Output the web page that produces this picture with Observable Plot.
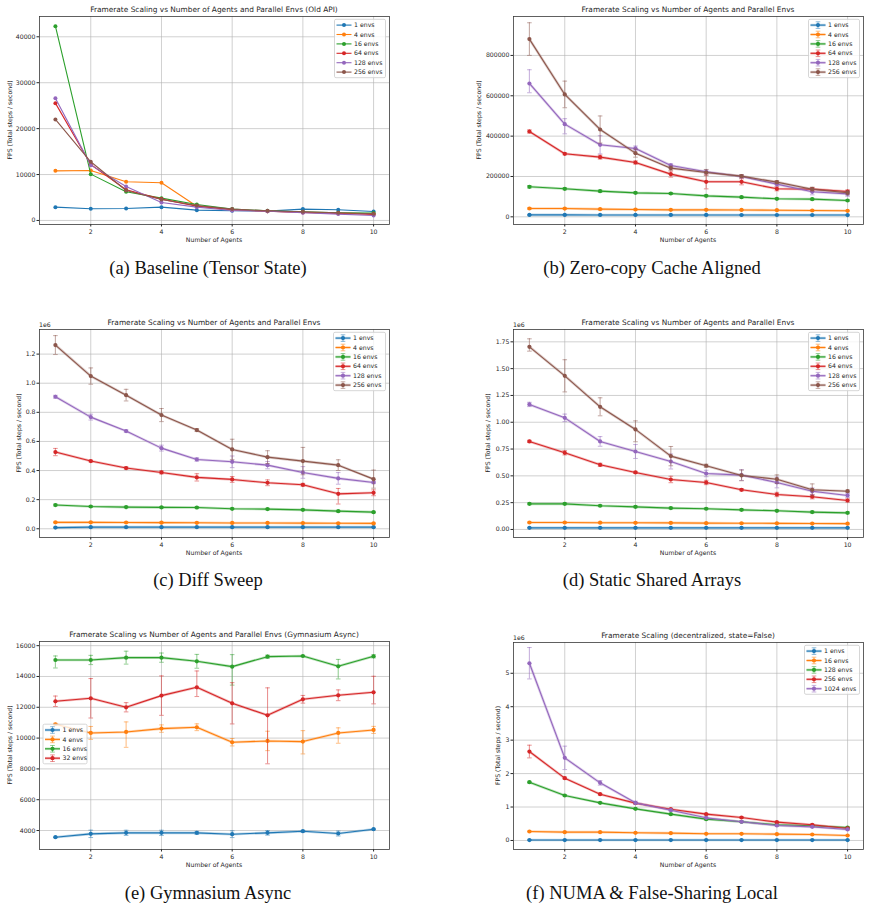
<!DOCTYPE html>
<html><head><meta charset="utf-8">
<script src="https://cdn.jsdelivr.net/npm/d3@7"></script>
<script src="https://cdn.jsdelivr.net/npm/@observablehq/plot@0.6"></script>
<style>
html,body{margin:0;padding:0;background:#fff;}
#page{position:relative;width:869px;height:914px;overflow:hidden;background:#fff;}
.panel{position:absolute;}
.panel svg{overflow:visible;}
.caption{position:absolute;width:420px;text-align:center;font-family:"Liberation Serif","DejaVu Serif",serif;font-size:18.5px;color:#111;line-height:20px;white-space:nowrap;}
</style></head><body><div id="page"></div>
<script>
// ---------------- data ----------------
const agents = [1, 2, 3, 4, 5, 6, 7, 8, 9, 10];
const xTicks = [2, 4, 6, 8, 10];

// (a) Baseline (Tensor State)
const baselineEnvs = ["1 envs", "4 envs", "16 envs", "64 envs", "128 envs", "256 envs"];
const baselineFps = [
  [2900, 2540, 2610, 2900, 2250, 2100, 2030, 2470, 2320, 1960],
  [10800, 10890, 8420, 8200, 3100, 2300, 2030, 1800, 1600, 1450],
  [42300, 10090, 6240, 4860, 3480, 2470, 2100, 1890, 1670, 1600],
  [25550, 12200, 6680, 4650, 3120, 2320, 2030, 1740, 1520, 1300],
  [26640, 12050, 7400, 3920, 2900, 2180, 2030, 1670, 1380, 1090],
  [22000, 12780, 6530, 4570, 3270, 2470, 2100, 1890, 1670, 1450]
];
const baselineTicks = [0, 10000, 20000, 30000, 40000];

// (b) Zero-copy Cache Aligned
const zeroCopyEnvs = ["1 envs", "4 envs", "16 envs", "64 envs", "128 envs", "256 envs"];
const zeroCopyFps = [
  [9500, 9500, 9400, 9400, 9300, 9300, 9200, 9100, 9000, 8800],
  [41300, 41000, 38000, 36400, 34700, 34700, 34000, 33000, 31400, 29800],
  [148800, 138900, 127300, 119000, 115700, 104100, 97500, 89300, 87600, 81000],
  [423000, 312400, 295900, 269400, 211600, 173600, 173600, 138900, 137200, 125600],
  [661000, 459500, 357000, 339000, 254600, 223100, 200000, 162000, 124000, 114000],
  [881000, 606700, 433000, 315700, 241300, 219800, 201700, 172000, 137000, 119000]
];
const zeroCopyErr = [
  [2000, 2000, 1500, 1500, 1500, 1500, 1500, 1500, 1500, 1500],
  [4000, 3000, 3000, 2500, 2500, 2500, 2500, 2500, 2500, 2500],
  [6000, 5000, 5000, 4000, 4000, 4000, 4000, 4000, 4000, 4000],
  [8000, 5000, 10000, 8000, 15000, 35000, 15000, 10000, 8000, 8000],
  [[46000, 68000], [48000, 27000], 45000, 12000, 8000, 10000, 8000, 10000, 15000, 12000],
  [81000, 66000, 67000, 20000, 10000, 15000, 8000, 8000, 10000, 10000]
];
const zeroCopyTicks = [0, 200000, 400000, 600000, 800000];

// (c) Diff Sweep
const diffEnvs = ["1 envs", "4 envs", "16 envs", "64 envs", "128 envs", "256 envs"];
const diffFps = [
  [8000, 11000, 11000, 11000, 11000, 11000, 11000, 11000, 11000, 11000],
  [44000, 44000, 43000, 42000, 41000, 40000, 40000, 39000, 38000, 37000],
  [163000, 153000, 149000, 147000, 146000, 137000, 135000, 130000, 121000, 114000],
  [527000, 465000, 417000, 387000, 353000, 339000, 316000, 302000, 240000, 247000],
  [907000, 767000, 671000, 554000, 476000, 460000, 437000, 387000, 346000, 318000],
  [1262000, 1049000, 918000, 781000, 678000, 545000, 492000, 465000, 437000, 341000]
];
const diffErr = [
  [3000, 3000, 3000, 3000, 3000, 3000, 3000, 3000, 3000, 3000],
  [4000, 4000, 4000, 4000, 4000, 4000, 4000, 4000, 4000, 4000],
  [6000, 5000, 5000, 5000, 5000, 5000, 5000, 5000, 5000, 5000],
  [25000, 6000, 8000, 10000, 25000, 20000, 20000, 10000, [70000, 37000], 20000],
  [10000, 20000, 8000, 20000, 12000, 40000, 25000, 40000, 40000, 8000],
  [65000, 56000, 40000, 45000, 10000, 70000, 44000, 94000, 37000, 62000]
];
const diffTicks = [0, 200000, 400000, 600000, 800000, 1000000, 1200000];

// (d) Static Shared Arrays
const staticEnvs = ["1 envs", "4 envs", "16 envs", "64 envs", "128 envs", "256 envs"];
const staticFps = [
  [15000, 15000, 15000, 15000, 15000, 15000, 15000, 15000, 15000, 15000],
  [65000, 65000, 63000, 62000, 61000, 59000, 58000, 57000, 55000, 54000],
  [239000, 239000, 221000, 211000, 199000, 193000, 183000, 174000, 162000, 155000],
  [821000, 715000, 603000, 532000, 466000, 438000, 370000, 326000, 305000, 270000],
  [1166000, 1041000, 821000, 727000, 634000, 522000, 507000, 438000, 357000, 317000],
  [1703000, 1433000, 1144000, 933000, 684000, 594000, 504000, 469000, 370000, 357000]
];
const staticErr = [
  [3000, 3000, 3000, 3000, 3000, 3000, 3000, 3000, 3000, 3000],
  [5000, 5000, 5000, 5000, 5000, 5000, 5000, 5000, 5000, 5000],
  [8000, 8000, 8000, 8000, 8000, 8000, 8000, 8000, 8000, 8000],
  [10000, 20000, 15000, 10000, 30000, 20000, 10000, 20000, 20000, 15000],
  [20000, 35000, 45000, 65000, 70000, 30000, 50000, 50000, 30000, 20000],
  [[40000, 75000], 150000, 84000, [115000, 80000], 90000, 15000, 50000, 40000, 55000, 10000]
];
const staticTicks = [0, 250000, 500000, 750000, 1000000, 1250000, 1500000, 1750000];

// (e) Gymnasium Async
const gymEnvs = ["1 envs", "4 envs", "16 envs", "32 envs"];
const gymFps = [
  [3568, 3784, 3849, 3849, 3849, 3762, 3849, 3957, 3805, 4086],
  [10897, 10335, 10400, 10616, 10703, 9730, 9816, 9773, 10335, 10530],
  [15070, 15070, 15222, 15222, 14984, 14638, 15286, 15330, 14659, 15308],
  [12389, 12584, 12000, 12757, 13297, 12259, 11481, 12519, 12778, 12973]
];
const gymErr = [
  [30, 240, 170, 170, 100, 220, 150, 50, 160, 40],
  [60, 420, [1000, 650], 240, 220, 240, 630, [800, 710], [670, 330], 230],
  [[520, 260], 300, 420, 300, 450, [1200, 780], 100, 40, [820, 450], 100],
  [340, 1280, 300, 1280, [600, 1060], 1340, [3150, 1780], 250, 350, [750, 1040]]
];
const gymTicks = [4000, 6000, 8000, 10000, 12000, 14000, 16000];

// (f) NUMA & False-Sharing Local
const numaEnvs = ["1 envs", "16 envs", "128 envs", "256 envs", "1024 envs"];
const numaFps = [
  [12000, 12000, 12000, 12000, 12000, 12000, 12000, 12000, 12000, 12000],
  [269000, 249000, 249000, 229000, 219000, 199000, 199000, 189000, 179000, 149000],
  [1743000, 1345000, 1125000, 946000, 787000, 637000, 558000, 468000, 438000, 388000],
  [2659000, 1863000, 1384000, 1116000, 936000, 787000, 687000, 548000, 468000, 359000],
  [5300000, 2470000, 1723000, 1125000, 906000, 677000, 558000, 448000, 408000, 329000]
];
const numaErr = [
  [2000, 2000, 2000, 2000, 2000, 2000, 2000, 2000, 2000, 2000],
  [12000, 10000, 10000, 10000, 10000, 10000, 10000, 10000, 10000, 10000],
  [25000, 20000, 20000, 20000, 20000, 20000, 20000, 20000, 20000, 20000],
  [190000, 30000, 25000, 20000, 20000, 20000, 20000, 20000, 20000, 20000],
  [470000, 350000, 70000, 50000, 30000, 20000, 20000, 20000, 20000, 20000]
];
const numaTicks = [0, 1000000, 2000000, 3000000, 4000000, 5000000];

const mainTitle = "Framerate Scaling vs Number of Agents and Parallel Envs";
const captions = ["(a) Baseline (Tensor State)", "(b) Zero-copy Cache Aligned", "(c) Diff Sweep",
  "(d) Static Shared Arrays", "(e) Gymnasium Async", "(f) NUMA & False-Sharing Local"];

// ---------------- styling / layout ----------------
const tab10 = ["#1f77b4", "#ff7f0e", "#2ca02c", "#d62728", "#9467bd", "#8c564b"];
const page = document.getElementById("page");
const capSymbol = {draw(ctx) { ctx.moveTo(-2.3, 0); ctx.lineTo(2.3, 0); }};
const fontSans = "'DejaVu Sans', sans-serif";

function panel(cfg) {
  const g = cfg.geom;
  const rows = [];
  cfg.labels.forEach((s, i) => agents.forEach((x, j) => {
    const y = cfg.values[i][j];
    const e = cfg.errors ? cfg.errors[i][j] : 0;
    const [dn, up] = Array.isArray(e) ? e : [e, e];
    rows.push({s, x, y, lo: y - dn, hi: y + up});
  }));
  const grid = {stroke: "#b0b0b0", strokeOpacity: 0.6, strokeWidth: 1};
  const marks = [
    Plot.gridX({ticks: xTicks, ...grid}),
    Plot.gridY({ticks: cfg.yTicks, ...grid}),
    Plot.axisX({ticks: xTicks, tickSize: 2.5, tickPadding: 3, tickFormat: "d", label: null}),
    Plot.axisY({ticks: cfg.yTicks, tickSize: 2.5, tickPadding: 1.5, tickFormat: cfg.yFormat, label: null})
  ];
  cfg.labels.forEach((s) => {
    const d = rows.filter(r => r.s === s);
    if (cfg.errors) {
      marks.push(Plot.line(d, {x: "x", y: "y", stroke: "s", strokeWidth: 2.6, strokeOpacity: 0.3}));
    }
    marks.push(Plot.line(d, {x: "x", y: "y", stroke: "s", strokeWidth: 1.1}));
    if (cfg.errors) {
      marks.push(Plot.ruleX(d, {x: "x", y1: "lo", y2: "hi", stroke: "s", strokeOpacity: 0.5, strokeWidth: 1.1}));
      const caps = d.flatMap(r => [{s: r.s, x: r.x, cy: r.lo}, {s: r.s, x: r.x, cy: r.hi}]);
      marks.push(Plot.dot(caps, {x: "x", y: "cy", symbol: capSymbol, stroke: "s", fill: "none", strokeOpacity: 0.5, strokeWidth: 1}));
    }
    marks.push(Plot.dot(d, {x: "x", y: "y", fill: "s", r: cfg.errors ? 2.1 : 2}));
  });
  marks.push(Plot.frame({stroke: "#3a3a3a", strokeWidth: 0.8}));

  const svg = Plot.plot({
    width: g.width, height: g.height,
    marginLeft: g.L, marginRight: g.width - g.R, marginTop: g.T, marginBottom: g.height - g.B,
    style: {fontFamily: fontSans, fontSize: "6.2px", color: "#262626", background: "transparent"},
    x: {domain: [0.55, 10.45]},
    y: {domain: cfg.yDomain},
    color: {domain: cfg.labels, range: tab10.slice(0, cfg.labels.length)},
    marks
  });
  const div = document.createElement("div");
  div.className = "panel";
  div.style.left = g.left + "px";
  div.style.top = g.top + "px";
  div.appendChild(svg);
  page.appendChild(div);

  const s = d3.select(svg);
  const cx = (g.L + g.R) / 2, cy = (g.T + g.B) / 2;
  const txt = (x, y, t, size, anchor) => s.append("text").attr("x", x).attr("y", y)
    .attr("font-family", fontSans).attr("font-size", size).attr("fill", "#262626")
    .attr("text-anchor", anchor || "middle").text(t);
  txt(cx, g.T - 4, cfg.title, "7.4px");
  txt(cx, g.B + 18.2, "Number of Agents", "6.2px");
  s.append("text").attr("transform", `translate(${g.L - cfg.yLabelOff},${cy}) rotate(-90)`)
    .attr("dy", "0.35em").attr("font-family", fontSans).attr("font-size", "6.2px")
    .attr("fill", "#262626").attr("text-anchor", "middle").text("FPS (Total steps / second)");
  if (cfg.offsetText) txt(g.L, g.T - 2.3, cfg.offsetText, "6.2px", "start");

  // legend (matplotlib style)
  const n = cfg.labels.length, rowH = 9.4, lw = cfg.legendWidth, lh = n * rowH + 2;
  let bx, by;
  if (cfg.legendLoc === "center left") { bx = g.L + 4; by = cy - 1 - lh / 2; }
  else { bx = g.R - 3.5 - lw; by = g.T + 3.3; }
  const lg = s.append("g").attr("text-anchor", "start");
  lg.append("rect").attr("x", bx).attr("y", by).attr("width", lw).attr("height", lh)
    .attr("rx", 1.5).attr("fill", "white").attr("fill-opacity", 0.8)
    .attr("stroke", "#cccccc").attr("stroke-width", 0.8);
  cfg.labels.forEach((lab, i) => {
    const c = tab10[i], yy = by + 5.8 + i * rowH, mx = bx + 9.5;
    if (cfg.errors) lg.append("line").attr("x1", bx + 2).attr("x2", bx + 17).attr("y1", yy).attr("y2", yy)
      .attr("stroke", c).attr("stroke-width", 2.6).attr("stroke-opacity", 0.3);
    lg.append("line").attr("x1", bx + 2).attr("x2", bx + 17).attr("y1", yy).attr("y2", yy)
      .attr("stroke", c).attr("stroke-width", 1.1);
    if (cfg.errors) {
      lg.append("path").attr("d", `M${mx},${yy - 3.3}V${yy + 3.3}M${mx - 2.3},${yy - 3.3}H${mx + 2.3}M${mx - 2.3},${yy + 3.3}H${mx + 2.3}`)
        .attr("stroke", c).attr("stroke-opacity", 0.5).attr("fill", "none").attr("stroke-width", 1);
    }
    lg.append("circle").attr("cx", mx).attr("cy", yy).attr("r", cfg.errors ? 2.1 : 2).attr("fill", c);
    lg.append("text").attr("x", bx + 19.5).attr("y", yy).attr("dy", "0.35em").attr("text-anchor", "start")
      .attr("font-family", fontSans).attr("font-size", "6.2px").attr("fill", "#262626").text(lab);
  });
}

function caption(text, centerX, centerY) {
  const d = document.createElement("div");
  d.className = "caption";
  d.style.left = (centerX - 210) + "px";
  d.style.top = (centerY - 10) + "px";
  d.textContent = text;
  page.appendChild(d);
}

const fmtInt = d3.format("d");
const leftCol = {left: 0, width: 435, L: 39, R: 389};
const rightCol = {left: 435, width: 434, L: 78, R: 428};

panel({labels: baselineEnvs, values: baselineFps, errors: null,
  geom: {...leftCol, top: 0, height: 260, T: 16, B: 224},
  yDomain: [-880, 44420], yTicks: baselineTicks, yFormat: fmtInt,
  title: mainTitle + " (Old API)", yLabelOff: 29, legendWidth: 51});
panel({labels: zeroCopyEnvs, values: zeroCopyFps, errors: zeroCopyErr,
  geom: {...rightCol, top: 0, height: 260, T: 16, B: 224},
  yDomain: [-38000, 993000], yTicks: zeroCopyTicks, yFormat: fmtInt,
  title: mainTitle, yLabelOff: 34, legendWidth: 51});
panel({labels: diffEnvs, values: diffFps, errors: diffErr,
  geom: {...leftCol, top: 305, height: 260, T: 24, B: 232},
  yDomain: [-60000, 1369000], yTicks: diffTicks, yFormat: d => (d / 1e6).toFixed(1),
  title: mainTitle, yLabelOff: 20, legendWidth: 52, offsetText: "1e6"});
panel({labels: staticEnvs, values: staticFps, errors: staticErr,
  geom: {...rightCol, top: 305, height: 260, T: 24, B: 232},
  yDomain: [-75000, 1865000], yTicks: staticTicks, yFormat: d => (d / 1e6).toFixed(2),
  title: mainTitle, yLabelOff: 25, legendWidth: 51, offsetText: "1e6"});
panel({labels: gymEnvs, values: gymFps, errors: gymErr,
  geom: {...leftCol, top: 610, height: 270, T: 31, B: 239},
  yDomain: [2768, 16270], yTicks: gymTicks, yFormat: fmtInt,
  title: mainTitle + " (Gymnasium Async)", yLabelOff: 29, legendWidth: 44, legendLoc: "center left"});
panel({labels: numaEnvs, values: numaFps, errors: numaErr,
  geom: {...rightCol, top: 610, height: 270, T: 32, B: 239},
  yDomain: [-270000, 5920000], yTicks: numaTicks, yFormat: d => String(d / 1e6),
  title: "Framerate Scaling (decentralized, state=False)", yLabelOff: 15, legendWidth: 55, offsetText: "1e6"});

caption(captions[0], 208, 268);
caption(captions[1], 652, 268);
caption(captions[2], 208, 580);
caption(captions[3], 652, 580);
caption(captions[4], 208, 893);
caption(captions[5], 652, 893);
</script></body></html>
